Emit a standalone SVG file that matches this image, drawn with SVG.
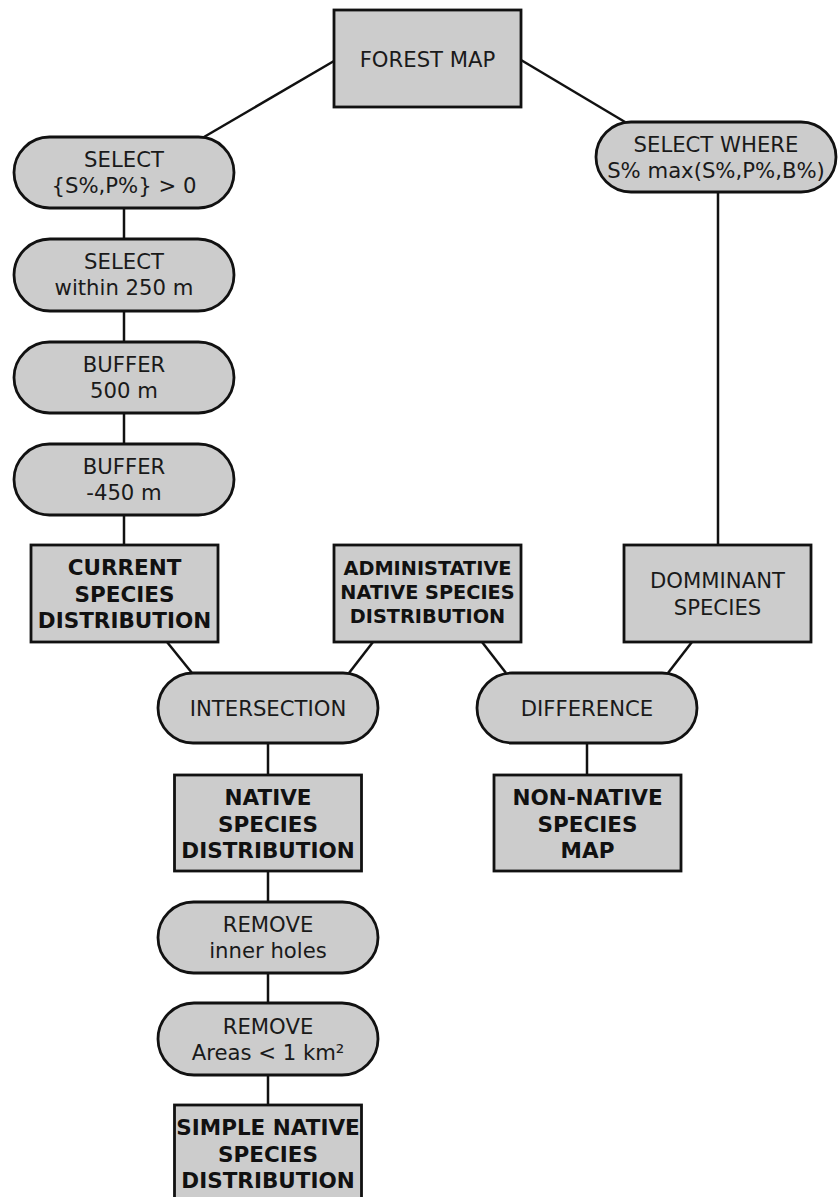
<svg xmlns="http://www.w3.org/2000/svg" width="838" height="1197" viewBox="0 0 838 1197">
<style>
.box{fill:#cccccc;stroke:#111;stroke-width:2.8}
.t{font-family:"DejaVu Sans",sans-serif;font-size:21.2px;fill:#1a1a1a;text-anchor:middle}
.b{font-family:"DejaVu Sans",sans-serif;font-size:21.5px;font-weight:bold;fill:#111;text-anchor:middle}
.bs{font-size:19.3px}
.c{stroke:#111;stroke-width:2.5;fill:none}
</style>
<rect width="838" height="1197" fill="#ffffff"/>
<g id="connectors">
<line class="c" x1="334" y1="61" x2="204" y2="137"/>
<line class="c" x1="521" y1="60" x2="625" y2="122"/>
<line class="c" x1="124" y1="208" x2="124" y2="239"/>
<line class="c" x1="124" y1="311" x2="124" y2="342"/>
<line class="c" x1="124" y1="413" x2="124" y2="444"/>
<line class="c" x1="124" y1="515" x2="124" y2="545"/>
<line class="c" x1="718" y1="192" x2="718" y2="545"/>
<line class="c" x1="167" y1="642" x2="192" y2="673"/>
<line class="c" x1="373" y1="642" x2="349" y2="673"/>
<line class="c" x1="482" y1="642" x2="506" y2="673"/>
<line class="c" x1="692" y1="642" x2="668" y2="673"/>
<line class="c" x1="268" y1="743" x2="268" y2="775"/>
<line class="c" x1="587" y1="743" x2="587" y2="775"/>
<line class="c" x1="268" y1="871" x2="268" y2="902"/>
<line class="c" x1="268" y1="973" x2="268" y2="1003"/>
<line class="c" x1="268" y1="1075" x2="268" y2="1105"/>
</g>
<g id="forest-map">
<rect class="box" x="334" y="10" width="187" height="97"/>
<text class="t" x="427.5" y="67">FOREST MAP</text>
</g>
<g id="select-sp">
<rect class="box" x="14" y="137" width="220" height="71" rx="35.5"/>
<text class="t" x="124" y="167">SELECT</text>
<text class="t" x="124" y="193">{S%,P%} &gt; 0</text>
</g>
<g id="select-within">
<rect class="box" x="14" y="239" width="220" height="72" rx="36"/>
<text class="t" x="124" y="269">SELECT</text>
<text class="t" x="124" y="295">within 250 m</text>
</g>
<g id="buffer-500">
<rect class="box" x="14" y="342" width="220" height="71" rx="35.5"/>
<text class="t" x="124" y="372">BUFFER</text>
<text class="t" x="124" y="398">500 m</text>
</g>
<g id="buffer-450">
<rect class="box" x="14" y="444" width="220" height="71" rx="35.5"/>
<text class="t" x="124" y="474">BUFFER</text>
<text class="t" x="124" y="500">-450 m</text>
</g>
<g id="select-where">
<rect class="box" x="596" y="122" width="240" height="70" rx="35"/>
<text class="t" x="716" y="152">SELECT WHERE</text>
<text class="t" x="716" y="178">S% max(S%,P%,B%)</text>
</g>
<g id="current-species">
<rect class="box" x="31" y="545" width="187" height="97"/>
<text class="b" x="124.5" y="575">CURRENT</text>
<text class="b" x="124.5" y="602">SPECIES</text>
<text class="b" x="124.5" y="628">DISTRIBUTION</text>
</g>
<g id="admin-native">
<rect class="box" x="334" y="545" width="187" height="97"/>
<text class="b bs" x="427.5" y="575">ADMINISTATIVE</text>
<text class="b bs" x="427.5" y="599">NATIVE SPECIES</text>
<text class="b bs" x="427.5" y="623">DISTRIBUTION</text>
</g>
<g id="dominant-species">
<rect class="box" x="624" y="545" width="187" height="97"/>
<text class="t" x="717.5" y="588">DOMMINANT</text>
<text class="t" x="717.5" y="615">SPECIES</text>
</g>
<g id="intersection">
<rect class="box" x="158" y="673" width="220" height="70" rx="35"/>
<text class="t" x="268" y="716">INTERSECTION</text>
</g>
<g id="difference">
<rect class="box" x="477" y="673" width="220" height="70" rx="35"/>
<text class="t" x="587" y="716">DIFFERENCE</text>
</g>
<g id="native-species">
<rect class="box" x="174.5" y="775" width="187" height="96"/>
<text class="b" x="268" y="805">NATIVE</text>
<text class="b" x="268" y="832">SPECIES</text>
<text class="b" x="268" y="858">DISTRIBUTION</text>
</g>
<g id="non-native">
<rect class="box" x="494" y="775" width="187" height="96"/>
<text class="b" x="587.5" y="805">NON-NATIVE</text>
<text class="b" x="587.5" y="832">SPECIES</text>
<text class="b" x="587.5" y="858">MAP</text>
</g>
<g id="remove-holes">
<rect class="box" x="158" y="902" width="220" height="71" rx="35.5"/>
<text class="t" x="268" y="932">REMOVE</text>
<text class="t" x="268" y="958">inner holes</text>
</g>
<g id="remove-areas">
<rect class="box" x="158" y="1003" width="220" height="72" rx="36"/>
<text class="t" x="268" y="1034">REMOVE</text>
<text class="t" x="268" y="1060">Areas &lt; 1 km²</text>
</g>
<g id="simple-native">
<rect class="box" x="174.5" y="1105" width="187" height="97"/>
<text class="b" x="268" y="1135">SIMPLE NATIVE</text>
<text class="b" x="268" y="1162">SPECIES</text>
<text class="b" x="268" y="1188">DISTRIBUTION</text>
</g>
</svg>
